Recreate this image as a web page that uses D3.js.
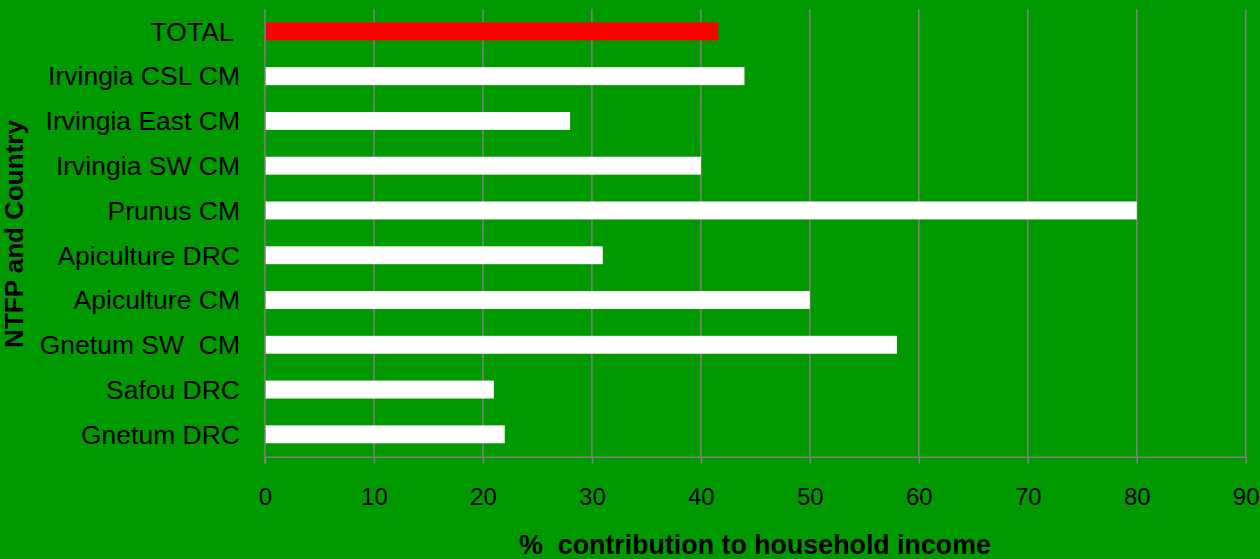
<!DOCTYPE html>
<html>
<head>
<meta charset="utf-8">
<script src="https://cdn.jsdelivr.net/npm/d3@7"></script>
<style>
  body { margin: 0; background: #009900; }
  svg { display: block; font-family: "Liberation Sans", Arial, sans-serif; }
</style>
</head>
<body>
<svg id="s" width="1260" height="559"></svg>
<script>
// categories top to bottom
var categories = ["TOTAL ", "Irvingia CSL CM", "Irvingia East CM", "Irvingia SW CM", "Prunus CM",
                  "Apiculture DRC", "Apiculture CM", "Gnetum SW  CM", "Safou DRC", "Gnetum DRC"];
var values = [41.6, 44, 28, 40, 80, 31, 50, 58, 21, 22];
var xTicks = [0, 10, 20, 30, 40, 50, 60, 70, 80, 90];

var svg = d3.select("#s");
var plotL = 265, plotR = 1245.7, plotT = 9, plotB = 456.7;

var x = d3.scaleLinear().domain([0, 90]).range([plotL, plotR]);
var y = d3.scaleBand().domain(categories).range([plotT, plotB]).paddingInner(0.6).paddingOuter(0.3);

svg.append("rect").attr("width", 1260).attr("height", 559).attr("fill", "#009900");

// grid
svg.append("g").selectAll("line").data(xTicks.slice(1)).join("line")
  .attr("x1", d => x(d)).attr("x2", d => x(d))
  .attr("y1", plotT).attr("y2", plotB)
  .attr("stroke", "#808080").attr("stroke-width", 1.5);

// bars
svg.append("g").selectAll("rect").data(values).join("rect")
  .attr("x", x(0))
  .attr("y", (d, i) => y(categories[i]))
  .attr("width", d => x(d) - x(0))
  .attr("height", y.bandwidth())
  .attr("fill", (d, i) => i === 0 ? "#ff0000" : "#ffffff");

// x axis
var xa = svg.append("g").attr("transform", "translate(0," + plotB + ")")
  .call(d3.axisBottom(x).tickValues(xTicks).tickSize(7).tickPadding(24).tickSizeOuter(0));
xa.select(".domain").attr("stroke", "#808080").attr("stroke-width", 1.5);
xa.selectAll(".tick line").attr("stroke", "#808080").attr("stroke-width", 1.5);
xa.selectAll("text").attr("font-size", 24).attr("font-family", "Liberation Sans, Arial, sans-serif").attr("fill", "#000");

// y axis line
svg.append("line").attr("x1", plotL).attr("x2", plotL).attr("y1", plotT).attr("y2", plotB + 7)
  .attr("stroke", "#808080").attr("stroke-width", 1.5);

// category labels
svg.append("g").selectAll("text").data(categories).join("text")
  .attr("x", 240)
  .attr("y", d => y(d) + y.bandwidth() / 2)
  .attr("dy", "0.35em")
  .attr("text-anchor", "end")
  .attr("font-size", 26.5)
  .style("white-space", "pre")
  .text(d => d);

// titles
svg.append("text").attr("x", 755).attr("y", 554).attr("text-anchor", "middle")
  .attr("font-size", 26.8).attr("font-weight", "bold").style("white-space", "pre")
  .text("%  contribution to household income");

svg.append("text").attr("transform", "translate(23,234) rotate(-90)").attr("text-anchor", "middle")
  .attr("font-size", 26).attr("font-weight", "bold")
  .text("NTFP and Country");
</script>
</body>
</html>
